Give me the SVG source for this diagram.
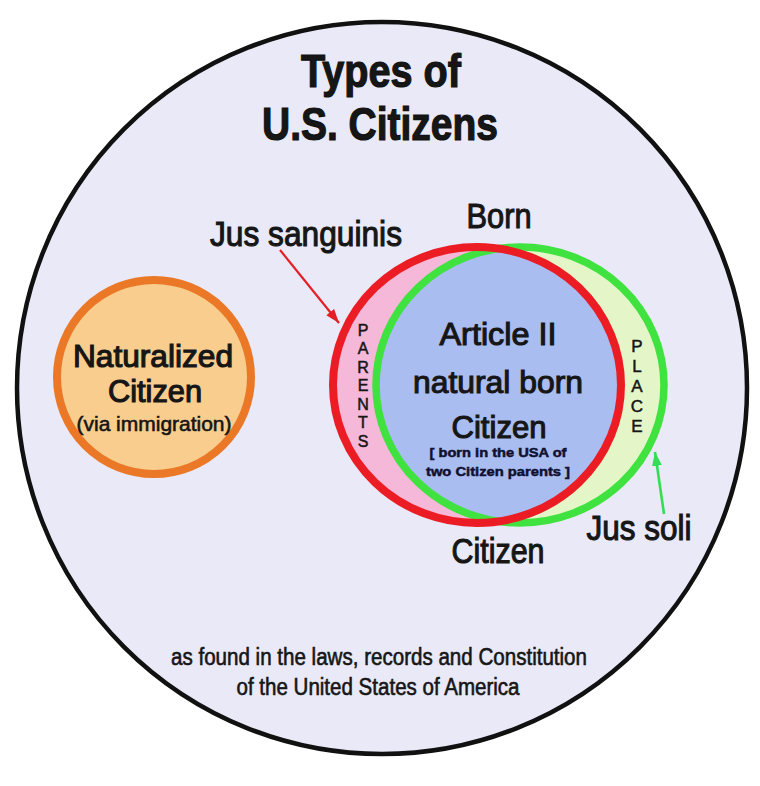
<svg xmlns="http://www.w3.org/2000/svg" width="760" height="786" viewBox="0 0 760 786">
  <style>
    text { font-family: "Liberation Sans Narrow", "Liberation Sans", Arial, sans-serif; fill: #161616; text-anchor: middle; }
    .title { font-size: 47px; font-weight: bold; stroke: #111111; stroke-width: 1.2; }
    .lbl { font-size: 35px; stroke: #161616; stroke-width: 1.1; }
    .nat { font-size: 32px; stroke: #161616; stroke-width: 1.2; }
    .mid { font-size: 32px; stroke: #161616; stroke-width: 1.1; }
    .small { font-family: "Liberation Sans", Arial, sans-serif; font-size: 13px; font-weight: bold; stroke: #101030; stroke-width: 0.5; fill: #101030; }
    .vert { font-family: "Liberation Sans", Arial, sans-serif; font-size: 16px; stroke: #161616; stroke-width: 0.5; }
    .foot { font-size: 23px; stroke: #161616; stroke-width: 0.6; }
  </style>
  <defs>
    <marker id="ah-red" viewBox="0 0 14 10" refX="14" refY="5" markerWidth="14" markerHeight="10" orient="auto" markerUnits="userSpaceOnUse">
      <path d="M0,0 L14,5 L0,10 z" fill="#e41f26"/>
    </marker>
    <marker id="ah-green" viewBox="0 0 14 10" refX="14" refY="5" markerWidth="14" markerHeight="10" orient="auto" markerUnits="userSpaceOnUse">
      <path d="M0,0 L14,5 L0,10 z" fill="#33dd55"/>
    </marker>
    <clipPath id="clip-red">
      <ellipse cx="477" cy="385" rx="144" ry="138"/>
    </clipPath>
  </defs>

  <rect x="0" y="0" width="760" height="786" fill="#ffffff"/>

  <g id="outer">
    <ellipse cx="382" cy="388" rx="365" ry="366" fill="#e9e9f7" stroke="#111111" stroke-width="4.5"/>
    <text class="title" x="381" y="87" textLength="160" lengthAdjust="spacingAndGlyphs">Types of</text>
    <text class="title" x="380" y="140" textLength="236" lengthAdjust="spacingAndGlyphs">U.S. Citizens</text>
    <text class="foot" x="379" y="665" textLength="416" lengthAdjust="spacingAndGlyphs">as found in the laws, records and Constitution</text>
    <text class="foot" x="378" y="695" textLength="283" lengthAdjust="spacingAndGlyphs">of the United States of America</text>
  </g>

  <g id="naturalized">
    <circle cx="154" cy="377" r="97" fill="#f9cd8e" stroke="#ea7826" stroke-width="8"/>
    <text class="nat" x="153" y="367" textLength="160" lengthAdjust="spacingAndGlyphs">Naturalized</text>
    <text class="nat" x="155" y="402" textLength="94" lengthAdjust="spacingAndGlyphs">Citizen</text>
    <text class="nat" x="154" y="431" style="font-size:21px;stroke-width:0.6" textLength="155" lengthAdjust="spacingAndGlyphs">(via immigration)</text>
  </g>

  <g id="jus-soli-place">
    <ellipse cx="520" cy="385" rx="144" ry="138" fill="#e4f6c8"/>
  </g>
  <g id="jus-sanguinis-parents">
    <ellipse cx="477" cy="385" rx="144" ry="138" fill="#f5b8d8"/>
  </g>
  <g id="natural-born">
    <ellipse cx="520" cy="385" rx="144" ry="138" fill="#a9bdf1" clip-path="url(#clip-red)"/>
  </g>
  <g id="rings">
    <ellipse cx="520" cy="385" rx="144" ry="138" fill="none" stroke="#3fe23f" stroke-width="7.5"/>
    <ellipse cx="477" cy="385" rx="144" ry="138" fill="none" stroke="#ec1c24" stroke-width="8"/>
  </g>

  <g id="natural-born-text">
    <text class="mid" x="498" y="345" textLength="117" lengthAdjust="spacingAndGlyphs">Article II</text>
    <text class="mid" x="498" y="393" textLength="170" lengthAdjust="spacingAndGlyphs">natural born</text>
    <text class="mid" x="499" y="438" textLength="95" lengthAdjust="spacingAndGlyphs">Citizen</text>
    <text class="small" x="498" y="457" textLength="137" lengthAdjust="spacingAndGlyphs">[ born in the USA of</text>
    <text class="small" x="498" y="476" textLength="144" lengthAdjust="spacingAndGlyphs">two Citizen parents ]</text>
  </g>

  <g id="parents-text">
    <text class="vert" x="363" y="336">P</text>
    <text class="vert" x="363" y="354">A</text>
    <text class="vert" x="363" y="373">R</text>
    <text class="vert" x="363" y="391">E</text>
    <text class="vert" x="363" y="410">N</text>
    <text class="vert" x="363" y="428">T</text>
    <text class="vert" x="363" y="447">S</text>
  </g>
  <g id="place-text">
    <text class="vert" x="637" y="352" style="font-size:17px">P</text>
    <text class="vert" x="637" y="372" style="font-size:17px">L</text>
    <text class="vert" x="637" y="392" style="font-size:17px">A</text>
    <text class="vert" x="637" y="412" style="font-size:17px">C</text>
    <text class="vert" x="637" y="432" style="font-size:17px">E</text>
  </g>

  <g id="labels">
    <text class="lbl" x="499" y="228" textLength="65" lengthAdjust="spacingAndGlyphs">Born</text>
    <text class="lbl" x="498" y="563" textLength="93" lengthAdjust="spacingAndGlyphs">Citizen</text>
    <text class="lbl" x="306" y="246" textLength="192" lengthAdjust="spacingAndGlyphs">Jus sanguinis</text>
    <text class="lbl" x="639" y="540" textLength="105" lengthAdjust="spacingAndGlyphs">Jus soli</text>
  </g>

  <g id="connectors">
    <line x1="280" y1="250" x2="339" y2="323" stroke="#e41f26" stroke-width="2.2" marker-end="url(#ah-red)"/>
    <line x1="664" y1="514" x2="655" y2="452" stroke="#33dd55" stroke-width="2.6" marker-end="url(#ah-green)"/>
  </g>
</svg>
